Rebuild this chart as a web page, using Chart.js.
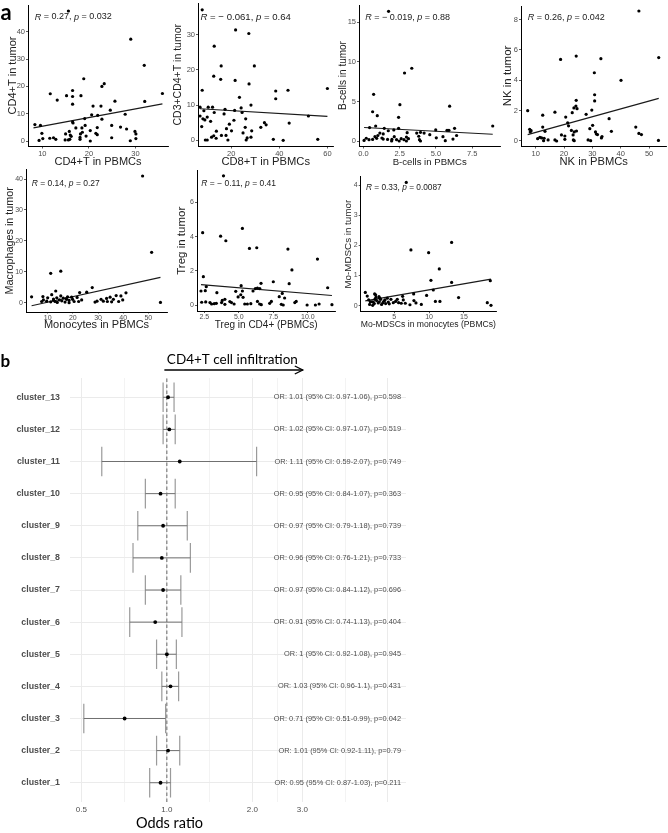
<!DOCTYPE html>
<html><head><meta charset="utf-8">
<script src="https://cdn.jsdelivr.net/npm/chart.js@4.4.0/dist/chart.umd.min.js"></script>
<style>
html,body{margin:0;padding:0;background:#fff;width:668px;height:833px;overflow:hidden;position:relative}
canvas{position:absolute}
</style></head><body>
<script>
// ---------- DATA: panel a ----------
const p1X=[15.6,29.0,31.9,18.9,23.3,22.8,35.8,11.7,16.5,16.5,15.2,18.3,13.2,25.6,32.0,16.5,20.9,22.6,24.6,27.8,20.6,21.9,22.8,19.1,16.5,16.6,8.4,9.6,19.2,24.9,26.8,17.2,18.5,21.8,28.1,20.3,9.9,15.8,18.6,21.5,29.9,15.0,18.2,16.0,21.8,30.1,16.2,19.4,18.1,11.6,12.4,10.1,12.9,18.1,24.9,30.1,9.3,14.9,15.6,15.9,20.3,28.9];
const p1Y=[47.6,37.3,27.7,22.8,21.0,20.0,17.4,17.3,18.5,16.3,16.6,16.6,15.0,14.6,14.5,13.5,12.8,12.8,11.3,9.8,9.6,9.4,8.0,8.2,7.0,6.6,6.0,5.7,5.7,5.7,5.1,4.8,4.8,4.9,4.4,3.8,2.8,3.5,3.2,2.8,3.5,2.6,2.6,2.2,2.3,2.6,1.7,1.8,1.3,1.0,1.2,0.9,0.6,0.6,1.2,0.9,0.2,0.4,0.4,0.6,0.0,0.1];
const p1LineX=[8.1,35.8], p1LineY=[4.8,13.6];
const p1XTicks=['10','20','30'], p1YTicks=['0','10','20','30','40'];

const p2X=[7.9,21.8,27.3,12.9,15.8,29.6,12.7,15.6,21.6,7.9,27.4,38.5,23.4,38.5,43.6,60.0,28.2,24.1,7.0,10.4,12.2,17.4,21.4,8.6,12.9,24.5,17.0,7.0,10.0,52.1,8.2,9.0,11.4,21.1,26.0,44.1,33.8,34.5,19.2,32.3,7.7,25.8,18.0,28.5,20.1,13.8,24.9,12.7,15.9,17.8,13.7,11.8,26.6,28.2,26.2,18.6,9.2,10.0,37.5,41.6,56.0];
const p2Y=[37.0,31.3,30.3,26.7,21.1,21.1,18.2,17.3,17.0,14.2,16.0,14.0,12.2,11.8,14.2,14.7,10.0,9.2,9.4,9.4,9.4,8.8,8.5,8.4,7.9,7.9,7.5,6.9,6.6,6.9,6.1,5.8,5.4,5.7,6.1,4.9,5.0,4.4,4.6,3.7,3.9,3.7,3.3,2.7,2.7,2.6,2.1,1.3,1.4,1.4,0.6,0.9,0.7,0.9,0.1,0.1,0.1,0.1,0.3,0.0,0.3];
const p2LineX=[7.0,60.0], p2LineY=[8.95,6.8];
const p2XTicks=['20','40','60'], p2YTicks=['0','10','20','30'];

const p3X=[1.74,3.34,2.84,0.71,2.52,5.95,0.64,0.96,2.43,8.92,0.85,0.43,1.44,2.43,6.29,4.99,5.9,5.77,2.1,1.72,3.68,3.94,4.19,3.02,1.14,1.37,4.58,3.82,6.43,5.49,2.97,1.0,0.8,5.03,2.13,0.2,0.39,0.05,1.37,1.67,1.97,2.29,2.61,2.8,3.11,3.87,3.94,5.65,6.18,2.47,0.64,0.92,1.28,1.95,2.97];
const p3Y=[16.4,9.2,8.6,5.9,4.6,4.4,3.7,3.2,3.0,1.9,1.9,1.7,1.6,1.6,1.6,1.4,1.35,1.35,1.4,1.3,1.0,1.1,1.0,1.05,1.0,0.9,0.8,0.6,0.7,0.55,0.5,0.7,0.55,0.4,0.55,0.35,0.17,0.08,0.25,0.2,0.2,0.17,0.3,0.17,0.3,0.17,0.0,0.04,0.25,0.0,0.2,0.34,0.38,0.0,0.0];
const p3LineX=[0.05,8.92], p3LineY=[1.70,0.85];
const p3XTicks=['0.0','2.5','5.0','7.5'], p3YTicks=['0','5','10','15'];

const p4X=[46.4,18.8,24.3,33.0,53.4,30.7,40.1,30.8,30.8,24.3,24.2,23.5,24.6,29.8,7.2,16.8,22.9,27.8,12.5,20.6,35.9,21.3,21.6,12.5,30.1,45.3,7.9,8.4,8.1,22.6,24.4,23.6,29.1,36.7,31.1,13.3,19.1,20.3,23.2,31.4,31.8,46.4,47.3,33.4,33.2,11.5,12.1,13.0,10.7,14.4,16.8,17.4,20.3,23.3,23.6,28.5,29.4,12.8,53.3];
const p4Y=[8.57,5.38,5.6,5.43,5.5,4.5,4.0,3.05,2.64,2.68,2.3,2.18,2.13,2.04,2.0,1.9,1.87,1.76,1.7,1.58,1.47,1.2,1.0,0.92,1.03,0.92,0.77,0.68,0.6,0.7,0.66,0.6,0.81,0.64,0.6,0.64,0.4,0.33,0.4,0.46,0.42,0.5,0.42,0.29,0.2,0.24,0.2,0.18,0.15,0.07,0.07,0.0,0.11,0.07,0.02,0.07,0.02,0.02,0.04];
const p4LineX=[7.2,53.4], p4LineY=[0.42,2.81];
const p4XTicks=['10','20','30','40','50'], p4YTicks=['0','2','4','6','8'];

const p5X=[47.7,51.3,15.2,11.2,54.8,27.7,13.2,22.7,41.1,11.6,25.5,8.1,3.6,15.2,39.1,37.2,34.8,17.9,19.5,21.7,10.0,13.6,16.2,33.4,31.2,29.6,23.5,19.9,17.5,14.6,12.3,8.3,7.6,9.6,11.2,12.9,13.8,15.6,16.9,18.5,20.5,22.3,18.5,28.8,32.1,33.7,35.4,38.2,39.8,36.1,17.3,12.3];
const p5Y=[41.0,16.3,10.2,9.5,0.1,4.9,3.8,3.3,3.2,2.6,3.4,2.0,1.9,2.2,2.2,2.3,1.8,1.9,1.8,1.7,1.6,1.6,1.5,1.4,1.1,0.5,0.9,1.1,1.1,0.9,0.8,0.9,0.4,0.5,0.3,0.4,0.1,0.6,0.2,0.0,0.4,0.4,0.75,0.2,0.5,0.4,0.3,0.4,0.9,1.1,1.3,1.2];
const p5LineX=[3.6,54.8], p5LineY=[-1.0,8.2];
const p5XTicks=['10','20','30','40','50'], p5YTicks=['0','10','20','30','40'];

const p6X=[3.89,5.26,2.38,3.68,4.06,5.77,6.3,8.56,10.7,8.85,2.43,6.61,7.5,8.65,5.17,2.64,11.44,6.35,6.52,6.2,6.03,2.26,2.57,4.78,5.26,3.41,8.15,5.14,4.95,7.93,5.31,8.32,3.99,3.8,2.31,2.6,2.91,3.03,3.22,3.37,3.75,3.99,4.35,4.47,4.66,5.43,5.62,5.87,6.35,6.51,6.63,7.24,7.36,8.08,8.22,9.06,9.16,9.95,10.55,10.82,11.75];
const p6Y=[7.56,4.48,4.23,4.03,3.76,3.31,3.35,3.27,2.69,2.05,1.66,1.27,1.36,1.25,1.13,1.07,1.01,0.99,0.96,0.96,0.82,0.82,0.84,0.8,0.82,0.72,0.68,0.6,0.47,0.49,0.45,0.41,0.33,0.27,0.16,0.18,0.14,0.06,0.08,0.1,0.14,0.04,0.2,0.14,0.06,0.06,0.06,0.08,0.21,0.06,0.02,0.1,0.21,0.04,0.0,0.14,0.21,0.0,0.0,0.06,0.02];
const p6LineX=[2.26,11.75], p6LineY=[1.19,0.56];
const p6XTicks=['2.5','5.0','7.5','10.0'], p6YTicks=['0','2','4','6'];

const p7X=[6.72,13.23,7.39,9.93,11.46,10.26,13.23,18.78,10.6,7.78,9.64,14.23,7.82,8.11,10.9,11.55,18.35,18.88,8.88,7.25,0.84,1.12,1.32,1.56,1.46,1.9,2.13,2.22,2.37,2.46,2.7,2.85,3.04,3.18,3.37,3.52,3.66,3.76,2.18,2.32,2.8,2.94,4.0,4.14,4.28,4.52,4.86,5.19,5.43,5.62,6.0,6.29,6.58,6.2,1.8,1.99];
const p7Y=[4.09,2.1,1.85,1.76,1.22,0.84,0.77,0.83,0.52,0.39,0.34,0.27,0.17,0.09,0.14,0.14,0.1,0.01,0.04,0.03,0.44,0.32,0.19,0.13,0.04,0.01,0.07,0.21,0.28,0.17,0.09,0.13,0.21,0.04,0.1,0.15,0.19,0.07,0.39,0.36,0.3,0.25,0.25,0.12,0.06,0.21,0.1,0.14,0.21,0.1,0.08,0.19,0.08,0.31,0.13,0.12];
const p7LineX=[0.84,18.88], p7LineY=[0.16,0.88];
const p7XTicks=['5','10','15'], p7YTicks=['0','1','2','3','4'];

const corR=['0.27','\u2212 0.061','\u2212 0.019','0.26','0.14','\u2212 0.11','0.33'];
const corP=['0.032','0.64','0.88','0.042','0.27','0.41','0.0087'];
const xTitles=['CD4+T in PBMCs','CD8+T in PBMCs','B-cells in PBMCs','NK in PBMCs','Monocytes in PBMCs','Treg in CD4+ (PBMCs)','Mo-MDSCs in monocytes (PBMCs)'];
const yTitles=['CD4+T in tumor','CD3+CD4+T in tumor','B-cells in tumor','NK in tumor','Macrophages in tumor','Treg in tumor','Mo-MDSCs in tumor'];

// ---------- DATA: panel b ----------
const clusters=['cluster_1','cluster_2','cluster_3','cluster_4','cluster_5','cluster_6','cluster_7','cluster_8','cluster_9','cluster_10','cluster_11','cluster_12','cluster_13'];
const orVals=['0.95','1.01','0.71','1.03','1','0.91','0.97','0.96','0.97','0.95','1.11','1.02','1.01'];
const ciLow=['0.87','0.92','0.51','0.96','0.92','0.74','0.84','0.76','0.79','0.84','0.59','0.97','0.97'];
const ciHigh=['1.03','1.11','0.99','1.1','1.08','1.13','1.12','1.21','1.18','1.07','2.07','1.07','1.06'];
const orP=['0.211','0.79','0.042','0.431','0.945','0.404','0.696','0.733','0.739','0.363','0.749','0.519','0.598'];
const orTicks=['0.5','1.0','2.0','3.0'];
const orGridMajor=[0.5,1,2,3,6];

// ---------- drawing ----------
Chart.defaults.font.family='"Liberation Sans", Arial, sans-serif';
const SANS='"Liberation Sans", Arial, sans-serif';

const figPlugin={
  id:'fig',
  afterDraw(chart,args,o){
    const ctx=chart.ctx, a=chart.chartArea;
    ctx.save();
    if(o && o.r){
      let x=a.left+o.dx, y=a.top+o.dy;
      ctx.fillStyle='#1a1a1a'; ctx.textBaseline='middle'; ctx.textAlign='left';
      const parts=[['R',1],[' = '+o.r+', ',0],['p',1],[' = '+o.pv,0]];
      for(const [t,it] of parts){ctx.font=(it?'italic ':'')+o.rs+'px '+SANS; ctx.fillText(t,x,y); x+=ctx.measureText(t).width;}
    }
    if(o && o.letter){
      ctx.fillStyle='#000'; ctx.textBaseline='alphabetic'; ctx.textAlign='left';
      ctx.font='bold '+o.letterSize+'px Lato, "Open Sans", sans-serif';
      ctx.fillText(o.letter,o.lx,o.ly);
    }
    if(o && o.forest){
      const xs=chart.scales.x, ys=chart.scales.y;
      ctx.font='7.4px '+SANS; ctx.fillStyle='#4d4d4d'; ctx.textAlign='right'; ctx.textBaseline='middle';
      clusters.forEach((c,i)=>{
        ctx.fillText('OR: '+orVals[i]+' (95% CI: '+ciLow[i]+'-'+ciHigh[i]+'), p='+orP[i], a.right-5, ys.getPixelForValue(i+1));
      });
      const x1=xs.getPixelForValue(1);
      ctx.fillStyle='#000'; ctx.textAlign='left'; ctx.textBaseline='alphabetic';
      ctx.font='13.5px Lato, "Open Sans", sans-serif';
      ctx.fillText('CD4+T cell infiltration', x1, a.top-13.7);
      const ay=a.top-8, ax0=xs.getPixelForValue(0.98), ax1=xs.getPixelForValue(3.01);
      ctx.strokeStyle='#000'; ctx.lineWidth=1.3;
      ctx.beginPath(); ctx.moveTo(ax0,ay); ctx.lineTo(ax1,ay); ctx.stroke();
      ctx.beginPath(); ctx.moveTo(ax1-8,ay-4); ctx.lineTo(ax1,ay); ctx.lineTo(ax1-8,ay+4); ctx.stroke();
      ctx.textAlign='center'; ctx.textBaseline='middle';
      ctx.font='14.5px Lato, "Open Sans", sans-serif';
      ctx.fillText('Odds ratio', x1+2.6, a.bottom+21);
    }
    ctx.restore();
  }
};
Chart.register(figPlugin);

function addCanvas(bx,by,bw,bh){
  const cv=document.createElement('canvas');
  cv.width=bw; cv.height=bh; cv.style.left=bx+'px'; cv.style.top=by+'px';
  cv.style.width=bw+'px'; cv.style.height=bh+'px';
  document.body.appendChild(cv); return cv;
}

function makeScatter(k,xs,ys,lx,ly,xt,yt,L){
  const [bx,by,bw,bh]=L.box, [AL,AR,AT,AB]=L.area;
  const cv=addCanvas(bx,by,bw,bh);
  const xlh=L.xFont*1.2, ylh=L.yFont*1.2;
  new Chart(cv,{
    type:'scatter',
    data:{datasets:[
      {data:xs.map((v,i)=>({x:v,y:ys[i]})),backgroundColor:'#000',borderColor:'#000',pointRadius:1.6,pointBorderWidth:0,pointHoverRadius:1.6},
      {data:lx.map((v,i)=>({x:v,y:ly[i]})),showLine:true,borderColor:'#1a1a1a',borderWidth:1.1,pointRadius:0,pointHoverRadius:0,fill:false}
    ]},
    options:{
      responsive:false,animation:false,devicePixelRatio:1,events:[],
      layout:{padding:{left:0,top:AT-by,right:bx+bw-AR,bottom:0}},
      plugins:{legend:{display:false},tooltip:{enabled:false},
        fig:{r:corR[k],pv:corP[k],dx:L.dx,dy:L.dy,rs:L.rs,letter:L.letter||null,letterSize:L.letterSize||0,lx:L.lx||0,ly:L.ly||0}},
      scales:{
        x:{type:'linear',min:L.xr[0],max:L.xr[1],bounds:'data',
          afterBuildTicks:s=>{s.ticks=xt.map(t=>({value:Number(t)}));},
          afterFit:s=>{s.height=by+bh-AB;s.paddingLeft=0;s.paddingRight=0;},
          ticks:{autoSkip:false,maxRotation:0,minRotation:0,padding:L.xPad,color:'#4d4d4d',font:{size:L.tf},callback:(v,i)=>xt[i]},
          grid:{drawOnChartArea:false,drawTicks:true,tickLength:L.xTL,color:'#333',lineWidth:0.8},
          border:{display:true,color:'#000',width:1},
          title:{display:true,text:xTitles[k],color:'#222',font:{size:L.xFont},padding:{top:0,bottom:by+bh-L.xTitleY-xlh/2}}
        },
        y:{type:'linear',min:L.yr[0],max:L.yr[1],bounds:'data',
          afterBuildTicks:s=>{s.ticks=yt.map(t=>({value:Number(t)}));},
          afterFit:s=>{s.width=AL-bx;s.paddingTop=0;s.paddingBottom=0;},
          ticks:{autoSkip:false,padding:1,color:'#4d4d4d',font:{size:L.tf},callback:(v,i)=>yt[i]},
          grid:{drawOnChartArea:false,drawTicks:true,tickLength:2,color:'#333',lineWidth:0.8},
          border:{display:true,color:'#000',width:1},
          title:{display:true,text:yTitles[k],color:'#222',font:{size:L.yFont},padding:{top:L.yTitleX-bx-ylh/2,bottom:0}}
        }
      }
    }
  });
}

const R1={xTitleY:162,xPad:1,xTL:2.5,tf:7.5};
const R2={xTitleY:324.8,xPad:0,xTL:1.5,tf:7};
makeScatter(0,p1X,p1Y,p1LineX,p1LineY,p1XTicks,p1YTicks,{...R1,box:[0,0,170,170],area:[28,168,5,146],xr:[6.92,37.0],yr:[-1.83,49.8],xFont:11,yFont:11,yTitleX:13,dx:6.7,dy:12,rs:9,letter:'a',letterSize:22,lx:0.5,ly:20});
makeScatter(1,p2X,p2Y,p2LineX,p2LineY,p2XTicks,p2YTicks,{...R1,box:[165,0,170,170],area:[198,335,3.5,146],xr:[6.15,62.5],yr:[-1.6,38.8],xFont:11.2,yFont:10.5,yTitleX:178,dx:2.5,dy:13.5,rs:9.6});
makeScatter(2,p3X,p3Y,p3LineX,p3LineY,p3XTicks,p3YTicks,{...R1,box:[330,0,172,170],area:[359,501,5,146],xr:[-0.3,9.45],yr:[-0.63,17.2],xFont:9.6,yFont:10,yTitleX:343,dx:6.3,dy:12.3,rs:9});
makeScatter(3,p4X,p4Y,p4LineX,p4LineY,p4XTicks,p4YTicks,{...R1,box:[495,0,173,170],area:[521,667,6,146],xr:[4.84,56.1],yr:[-0.33,8.9],xFont:11.2,yFont:11.5,yTitleX:508,dx:6.7,dy:11.3,rs:9});
makeScatter(4,p5X,p5Y,p5LineX,p5LineY,p5XTicks,p5YTicks,{...R2,box:[0,166,170,166],area:[26,167,169.5,312],xr:[1.38,57.4],yr:[-3.0,43.1],xFont:11,yFont:10.8,yTitleX:10.5,dx:5.7,dy:14.5,rs:8.5});
makeScatter(5,p6X,p6Y,p6LineX,p6LineY,p6XTicks,p6YTicks,{...R2,box:[165,166,172,166],area:[197,336,170,311.5],xr:[1.97,12.0],yr:[-0.38,7.9],xFont:10,yFont:11.5,yTitleX:181.5,dx:4.3,dy:14,rs:8.5});
makeScatter(6,p7X,p7Y,p7LineX,p7LineY,p7XTicks,p7YTicks,{...R2,box:[330,166,170,166],area:[360.7,496,176.7,311.7],xr:[0.18,19.6],yr:[-0.2,4.28],xFont:8.9,yFont:9.8,yTitleX:348.3,dx:5.3,dy:11.3,rs:8.3});

// ---------- forest plot ----------
(function(){
  const bx=0,by=340,bw=668,bh=493, AL=70,AR=406,AT=378,AB=802;
  const cv=addCanvas(bx,by,bw,bh);
  const whisk=[], caps=[];
  clusters.forEach((c,i)=>{
    const lo=Number(ciLow[i]), hi=Number(ciHigh[i]), y=i+1;
    whisk.push({x:lo,y:y},{x:hi,y:y},{x:hi,y:null});
    caps.push({x:lo,y:y-0.46},{x:lo,y:y+0.46},{x:lo,y:null},{x:hi,y:y-0.46},{x:hi,y:y+0.46},{x:hi,y:null});
  });
  const gridVals=[];
  orGridMajor.forEach((m,i)=>{ if(i>0) gridVals.push(Math.sqrt(orGridMajor[i-1]*m)); gridVals.push(m); });
  new Chart(cv,{
    type:'scatter',
    data:{datasets:[
      {data:orVals.map((v,i)=>({x:Number(v),y:i+1})),backgroundColor:'#000',borderColor:'#000',pointRadius:1.9,pointBorderWidth:0,pointHoverRadius:1.9},
      {data:whisk,showLine:true,spanGaps:false,borderColor:'#707070',borderWidth:1,pointRadius:0,pointHoverRadius:0},
      {data:caps,showLine:true,spanGaps:false,borderColor:'#9a9a9a',borderWidth:1.2,pointRadius:0,pointHoverRadius:0},
      {data:[{x:1,y:0.4},{x:1,y:13.6}],showLine:true,borderColor:'#444',borderWidth:0.8,borderDash:[3.5,2.5],pointRadius:0,pointHoverRadius:0}
    ]},
    options:{
      responsive:false,animation:false,devicePixelRatio:1,events:[],
      layout:{padding:{left:0,top:AT-by,right:bx+bw-AR,bottom:0}},
      plugins:{legend:{display:false},tooltip:{enabled:false},fig:{forest:true,letter:'b',letterSize:17,lx:0.5,ly:27.3}},
      scales:{
        x:{type:'logarithmic',min:0.456,max:6.95,bounds:'data',
          afterBuildTicks:s=>{s.ticks=gridVals.map(v=>({value:v}));},
          afterFit:s=>{s.height=by+bh-AB;s.paddingLeft=0;s.paddingRight=0;},
          ticks:{autoSkip:false,maxRotation:0,minRotation:0,padding:3,color:'#4d4d4d',font:{size:8},
            callback:(v)=>{const t=orTicks.find(q=>Math.abs(Number(q)-v)<1e-9);return t===undefined?'':t;}},
          grid:{color:'#ebebeb',lineWidth:(c)=>orGridMajor.includes(c.tick&&c.tick.value)?1:0.6,drawTicks:false},
          border:{display:false}
        },
        y:{type:'linear',min:0.4,max:13.6,bounds:'data',
          afterBuildTicks:s=>{s.ticks=clusters.map((c,i)=>({value:i+1}));},
          afterFit:s=>{s.width=AL-bx;s.paddingTop=0;s.paddingBottom=0;},
          ticks:{autoSkip:false,padding:10,color:'#4d4d4d',font:{size:8.8,weight:'bold'},callback:(v,i)=>clusters[i]},
          grid:{color:'#ebebeb',lineWidth:1,drawTicks:false},
          border:{display:false}
        }
      }
    }
  });
})();
</script>
</body></html>
